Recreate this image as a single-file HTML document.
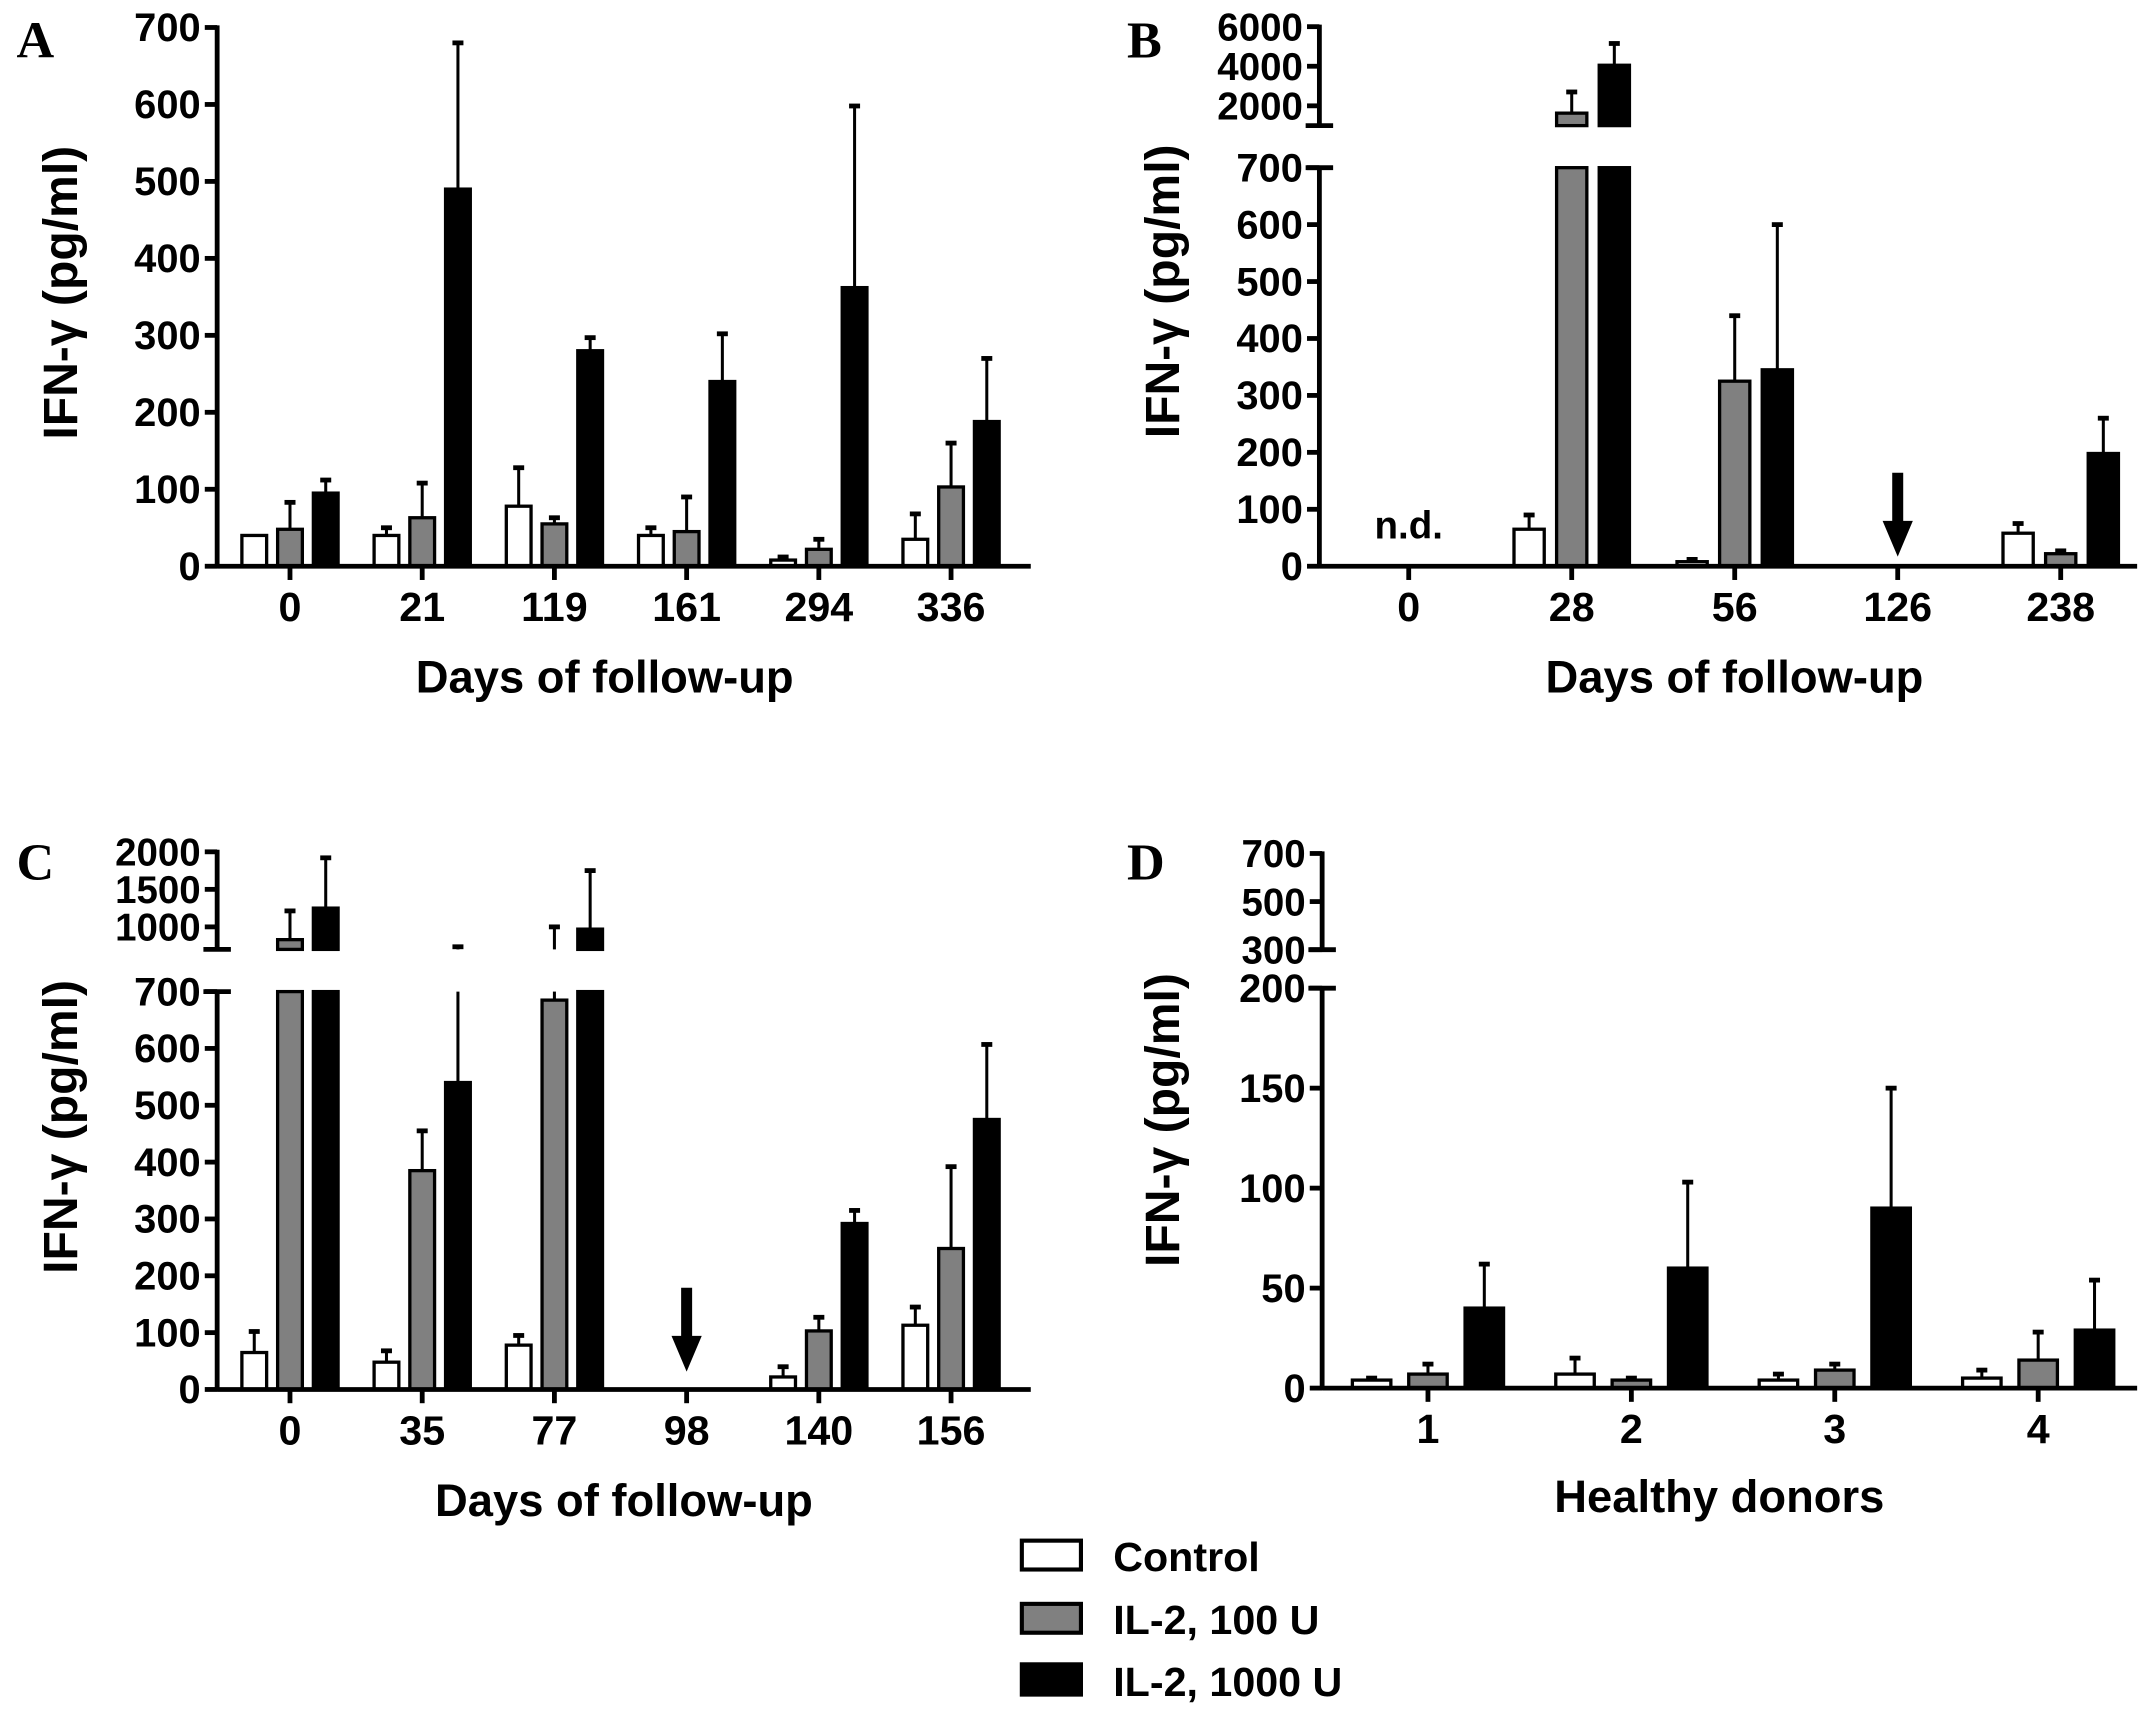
<!DOCTYPE html>
<html><head><meta charset="utf-8"><style>
html,body{margin:0;padding:0;background:#fff;}
svg{display:block;}
text{font-family:"Liberation Sans",Arial,sans-serif;font-weight:bold;fill:#000;}
.letter{font-family:"Liberation Serif",serif;font-weight:bold;}
</style></head><body>
<svg id="fig" xmlns="http://www.w3.org/2000/svg" width="2155" height="1720" viewBox="0 0 1568 1251.5" preserveAspectRatio="none">
<text class="letter" x="12" y="42" font-size="38">A</text>
<text class="letter" x="820" y="42" font-size="38">B</text>
<text class="letter" x="12" y="640" font-size="38">C</text>
<text class="letter" x="820" y="640" font-size="38">D</text>
<g>
<rect x="743.5" y="1121" width="43" height="21" fill="#fff" stroke="#000" stroke-width="3"/>
<text x="810" y="1143" font-size="30">Control</text>
<rect x="743.5" y="1167" width="43" height="21" fill="#808080" stroke="#000" stroke-width="3"/>
<text x="810" y="1189" font-size="30">IL-2, 100 U</text>
<rect x="743.5" y="1211" width="43" height="22" fill="#000" stroke="#000" stroke-width="3"/>
<text x="810" y="1234" font-size="30">IL-2, 1000 U</text>
</g>
</svg>
<script>
// Panel A data
const aCategories=['0','21','119','161','294','336'];
const aControl=[40,40,78,40,8,35];
const aControlErr=[40,50,128,50,12,68];
const aIL100=[48,63,55,45,22,103];
const aIL100Err=[83,108,63,90,35,160];
const aIL1000=[95,490,280,240,362,188];
const aIL1000Err=[112,680,297,302,598,270];
const aTicks=[0,100,200,300,400,500,600,700];
// Panel B data
const bCategories=['0','28','56','126','238'];
const bControl=[null,65,8,null,58];
const bControlErr=[null,90,12,null,75];
const bIL100=[null,1630,325,null,22];
const bIL100Err=[null,2700,440,null,27];
const bIL1000=[null,4050,345,null,198];
const bIL1000Err=[null,5150,600,null,260];
const bTicks=[0,100,200,300,400,500,600,700];
const bUpperTicks=[2000,4000,6000];
const bArrows=['126'];
const bNotDetected=['0'];
// Panel C data
const cCategories=['0','35','77','98','140','156'];
const cControl=[65,48,78,null,22,113];
const cControlErr=[102,68,95,null,40,145];
const cIL100=[830,385,685,null,103,248];
const cIL100Err=[1213,455,1000,null,127,392];
const cIL1000=[1250,540,970,null,292,475];
const cIL1000Err=[1920,735,1750,null,315,607];
const cTicks=[0,100,200,300,400,500,600,700];
const cUpperTicks=[1000,1500,2000];
const cArrows=['98'];
// Panel D data
const dCategories=['1','2','3','4'];
const dControl=[4,7,4,5];
const dControlErr=[5,15,7,9];
const dIL100=[7,4,9,14];
const dIL100Err=[12,5,12,28];
const dIL1000=[40,60,90,29];
const dIL1000Err=[62,103,150,54];
const dTicks=[0,50,100,150,200];
const dUpperTicks=[300,500,700];

const NS='http://www.w3.org/2000/svg';
const svg=document.getElementById('fig');
function mk(tag,attrs,parent){const e=document.createElementNS(NS,tag);for(const k in attrs)e.setAttribute(k,attrs[k]);(parent||svg).appendChild(e);return e;}

function panel(cfg){
  const g=mk('g',{});
  
  
  const L=cfg.low, U=cfg.up;
  function y(v){
    if(v<=L.max) return L.y0-(v/L.max)*(L.y0-L.yt);
    return U.yb-(v-U.min)/(U.max-U.min)*(U.yb-U.yt);
  }
  function xc(i){return cfg.x0+i*cfg.step;}
  const series=[
    {vals:cfg.s[0],errs:cfg.s[1],fill:'#fff',off:-cfg.off,key:'control'},
    {vals:cfg.s[2],errs:cfg.s[3],fill:'#808080',off:0,key:'il2-100'},
    {vals:cfg.s[4],errs:cfg.s[5],fill:'#000',off:cfg.off,key:'il2-1000'}];
  series.forEach(s=>{
    s.vals.forEach((v,i)=>{
      if(v===null) return;
      const cx=xc(i)+s.off, w=cfg.bw, x=cx-w/2;
      const bg=mk('g',{},g);
      
      
      if(v<=L.max){
        mk('rect',{x:x,y:y(v),width:w,height:L.y0-y(v),fill:s.fill,stroke:'#000','stroke-width':2.4},bg);
      } else {
        mk('rect',{x:x,y:L.yt,width:w,height:L.y0-L.yt,fill:s.fill,stroke:'#000','stroke-width':2.4},bg);
        mk('rect',{x:x,y:y(v),width:w,height:U.yb-y(v),fill:s.fill,stroke:'#000','stroke-width':2.4},bg);
      }
      const e=s.errs[i];
      if(e!==null && e>v){
        const eg=mk('g',{},g);
        
        
        if(e<=L.max || v>L.max){
          mk('line',{x1:cx,x2:cx,y1:y(v),y2:y(e),stroke:'#000','stroke-width':2.2},eg);
        } else {
          mk('line',{x1:cx,x2:cx,y1:y(v),y2:L.yt,stroke:'#000','stroke-width':2.2},eg);
          mk('line',{x1:cx,x2:cx,y1:U.yb,y2:y(e),stroke:'#000','stroke-width':2.2},eg);
        }
        mk('line',{x1:cx-4,x2:cx+4,y1:y(e),y2:y(e),stroke:'#000','stroke-width':3.5},eg);
      }
    });
  });
  const ax=cfg.ax;
  const yAxis=mk('g',{},g);
  
  
  mk('line',{x1:ax,x2:ax,y1:L.yt-1.5,y2:L.y0+1.5,stroke:'#000','stroke-width':3.5},yAxis);
  cfg.ticks.forEach(t=>{
    mk('line',{x1:ax-9,x2:ax,y1:y(t),y2:y(t),stroke:'#000','stroke-width':3.5},yAxis);
    const tx=mk('text',{x:ax-12,y:y(t)+10,'font-size':29,'text-anchor':'end'},yAxis);
    tx.textContent=t;
    
    
  });
  if(U){
    mk('line',{x1:ax,x2:ax,y1:U.yt-1.5,y2:U.yb,stroke:'#000','stroke-width':3.5},yAxis);
    mk('line',{x1:ax-10,x2:ax+10,y1:U.yb,y2:U.yb,stroke:'#000','stroke-width':3.5},yAxis);
    mk('line',{x1:ax-10,x2:ax+10,y1:L.yt,y2:L.yt,stroke:'#000','stroke-width':3.5},yAxis);
    cfg.upTicks.forEach(t=>{
      mk('line',{x1:ax-9,x2:ax,y1:y(t),y2:y(t),stroke:'#000','stroke-width':3.5},yAxis);
      const tx=mk('text',{x:ax-12,y:y(t)+10,'font-size':28,'text-anchor':'end'},yAxis);
      tx.textContent=t;
      
      
    });
  }
  const xAxis=mk('g',{},g);
  
  
  mk('line',{x1:ax,x2:cfg.xr,y1:L.y0,y2:L.y0,stroke:'#000','stroke-width':3.5},xAxis);
  cfg.cats.forEach((c,i)=>{
    mk('line',{x1:xc(i),x2:xc(i),y1:L.y0,y2:L.y0+10,stroke:'#000','stroke-width':3.5},xAxis);
    const tx=mk('text',{x:xc(i),y:L.y0+40,'font-size':30,'text-anchor':'middle'},xAxis);
    tx.textContent=c;
    
    
  });
  const xt=mk('text',{x:cfg.xtx,y:cfg.xty,'font-size':33,'text-anchor':'middle'},g);
  xt.textContent=cfg.xtitle;
  
  
  const yt=mk('text',{x:0,y:0,'font-size':35,'text-anchor':'middle',transform:'translate('+cfg.ytx+','+cfg.yty+') rotate(-90)'},g);
  yt.textContent='IFN-\u03b3 (pg/ml)';
  
  
  (cfg.arrows||[]).forEach(a=>{
    const i=cfg.cats.indexOf(a); if(i<0) return;
    const cx=xc(i), top=cfg.arrowTop, tip=cfg.arrowTip;
    const ar=mk('polygon',{points:[cx-4,top,cx+4,top,cx+4,tip-26,cx+11,tip-26,cx,tip,cx-11,tip-26,cx-4,tip-26].join(' '),fill:'#000'},g);
    
    
  });
  (cfg.nd||[]).forEach(a=>{
    const i=cfg.cats.indexOf(a); if(i<0) return;
    const t=mk('text',{x:xc(i),y:L.y0-20,'font-size':28,'text-anchor':'middle'},g);
    t.textContent='n.d.';
    
    
  });
}

panel({name:'panel-a',cats:aCategories,s:[aControl,aControlErr,aIL100,aIL100Err,aIL1000,aIL1000Err],
  x0:211,step:96.2,bw:18,off:26,ax:158,xr:750,low:{max:700,y0:412,yt:20},up:null,ticks:aTicks,
  xtitle:'Days of follow-up',xtx:440,xty:504,ytx:56,yty:213});
panel({name:'panel-b',cats:bCategories,s:[bControl,bControlErr,bIL100,bIL100Err,bIL1000,bIL1000Err],
  x0:1025,step:118.6,bw:22,off:31,ax:960,xr:1555,low:{max:700,y0:412,yt:122},
  up:{min:1000,max:6000,yb:91.4,yt:19.4},ticks:bTicks,upTicks:bUpperTicks,arrows:bArrows,arrowTop:344,arrowTip:405,nd:bNotDetected,
  xtitle:'Days of follow-up',xtx:1262,xty:504,ytx:858,yty:212});
panel({name:'panel-c',cats:cCategories,s:[cControl,cControlErr,cIL100,cIL100Err,cIL1000,cIL1000Err],
  x0:211,step:96.2,bw:18,off:26,ax:158,xr:750,low:{max:700,y0:1011,yt:721.5},
  up:{min:700,max:2000,yb:690.8,yt:619.8},ticks:cTicks,upTicks:cUpperTicks,arrows:cArrows,arrowTop:937,arrowTip:998,
  xtitle:'Days of follow-up',xtx:454,xty:1103,ytx:56,yty:820});
panel({name:'panel-d',cats:dCategories,s:[dControl,dControlErr,dIL100,dIL100Err,dIL1000,dIL1000Err],
  x0:1039,step:148,bw:28,off:41,ax:962,xr:1555,low:{max:200,y0:1010,yt:719},
  up:{min:300,max:700,yb:691,yt:621},ticks:dTicks,upTicks:dUpperTicks,
  xtitle:'Healthy donors',xtx:1251,xty:1100,ytx:858,yty:815});
</script>
</body></html>
